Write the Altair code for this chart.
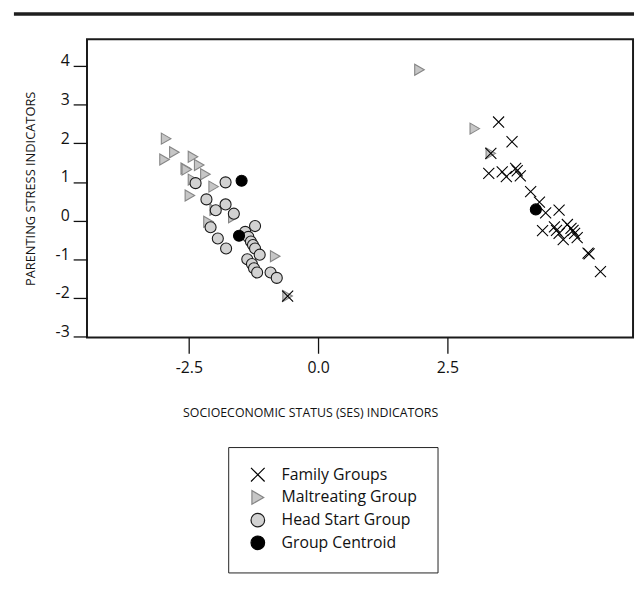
import altair as alt
import pandas as pd

groups = ["Family Groups", "Maltreating Group", "Head Start Group", "Group Centroid"]

malt_x = [-2.94, -2.78, -2.97, -2.42, -2.56, -2.54, -2.30, -2.18, -2.42, -2.02,
          -2.48, -2.00, -1.64, -2.12, -0.83, 1.96, 3.03, 3.34, -0.59]
malt_y = [2.12, 1.77, 1.58, 1.65, 1.35, 1.32, 1.44, 1.20, 1.06, 0.88,
          0.65, 0.28, 0.09, -0.03, -0.92, 3.90, 2.38, 1.74, -1.95]

head_x = [-2.37, -1.79, -2.16, -1.79, -1.98, -1.63, -2.08, -1.22, -1.41, -1.94, -1.35,
          -1.30, -1.26, -1.22, -1.78, -1.13, -1.37, -1.28, -1.24, -1.18, -0.92, -0.80]
head_y = [0.97, 0.99, 0.55, 0.42, 0.27, 0.18, -0.17, -0.14, -0.29, -0.46, -0.42,
          -0.54, -0.63, -0.72, -0.72, -0.88, -1.00, -1.12, -1.23, -1.34, -1.34, -1.48]

fam_x = [3.49, 3.75, 3.34, 3.30, 3.56, 3.64, 3.82, 3.85, 3.91, 4.11, 4.28, 4.40, 4.66,
         4.34, 4.57, 4.61, 4.66, 4.74, 4.82, 4.89, 4.93, 4.96, 5.01, 5.22, 5.24, 5.46, -0.59]
fam_y = [2.55, 2.04, 1.74, 1.22, 1.26, 1.14, 1.35, 1.29, 1.16, 0.75, 0.48, 0.20, 0.27,
         -0.26, -0.16, -0.25, -0.33, -0.49, -0.10, -0.20, -0.25, -0.33, -0.44, -0.84, -0.86, -1.32, -1.95]

cent_x = [-1.48, -1.53, 4.21]
cent_y = [1.03, -0.39, 0.29]

x_ticks = [-2.5, 0.0, 2.5]
y_ticks = [-3, -2, -1, 0, 1, 2, 3, 4]

rows = []
for xs, ys, g in [(malt_x, malt_y, groups[1]), (head_x, head_y, groups[2]),
                  (fam_x, fam_y, groups[0]), (cent_x, cent_y, groups[3])]:
    for a, b in zip(xs, ys):
        rows.append({"ses": a, "stress": b, "group": g})
df = pd.DataFrame(rows)

FONT = "Open Sans"
cross = "M-1,-1L1,1M-1,1L1,-1"

legend = alt.Legend(
    title=None, orient="none", legendX=143, legendY=413,
    strokeColor="#222", padding=20, labelFont=FONT, labelFontSize=16,
    labelColor="#111", symbolSize=190, symbolOffset=2, labelOffset=16,
    rowPadding=3, symbolStrokeWidth=1.2,
)

points = alt.Chart(df).mark_point(size=125, strokeWidth=1.1, opacity=1).encode(
    x=alt.X("ses:Q", scale=alt.Scale(domain=[-4.47, 6.09], nice=False, zero=False),
            axis=alt.Axis(values=x_ticks, format=".1f",
                          labelExpr="replace(datum.label, '−', '-')",
                          tickSize=16, tickColor="#111", tickWidth=1.3,
                          labelPadding=7, labelFont=FONT, labelFontSize=16,
                          labelColor="#111", domain=False, grid=False,
                          title="SOCIOECONOMIC STATUS (SES) INDICATORS",
                          titleFont=FONT, titleFontSize=12.5, titleFontWeight="normal",
                          titleColor="#111", titleX=226, titleY=80,
                          titleBaseline="alphabetic", titleAlign="center")),
    y=alt.Y("stress:Q", scale=alt.Scale(domain=[-3.02, 4.69], nice=False, zero=False),
            axis=alt.Axis(values=y_ticks, format="d",
                          labelExpr="replace(datum.label, '−', '-')",
                          tickSize=14, tickColor="#111", tickWidth=1.3,
                          labelPadding=4, labelBaseline="alphabetic",
                          labelFont=FONT, labelFontSize=16, labelColor="#111",
                          domain=False, grid=False,
                          title="PARENTING STRESS INDICATORS",
                          titleFont=FONT, titleFontSize=13, titleFontWeight="normal",
                          titleColor="#111", titlePadding=18)),
    shape=alt.Shape("group:N", scale=alt.Scale(domain=groups,
                    range=[cross, "triangle-right", "circle", "circle"]), legend=legend),
    fill=alt.Fill("group:N", scale=alt.Scale(domain=groups,
                  range=["transparent", "#c6c6c6", "#d2d2d2", "#000000"]), legend=legend),
    stroke=alt.Stroke("group:N", scale=alt.Scale(domain=groups,
                      range=["#000000", "#858585", "#1a1a1a", "#000000"]), legend=legend),
)

top_rule = alt.Chart(pd.DataFrame({"k": [0]})).mark_rule(
    color="#1e1e1e", strokeWidth=3.5
).encode(x=alt.value(-74), x2=alt.value(554), y=alt.value(-25.5))

chart = alt.layer(points, top_rule).properties(
    width=553, height=302,
    padding={"left": 4, "top": 0, "right": 0, "bottom": 4},
).configure_view(stroke="#1a1a1a", strokeWidth=2)

chart.save("out.html", embed_options={"renderer": "svg", "actions": False})
